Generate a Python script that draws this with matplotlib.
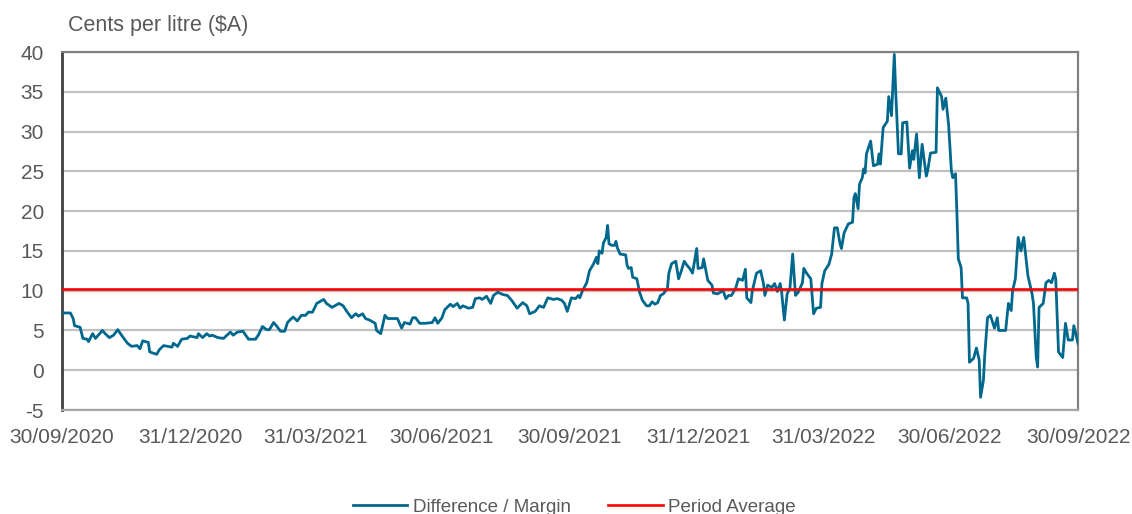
import matplotlib
matplotlib.use('Agg')
import matplotlib.pyplot as plt
import matplotlib.dates as mdates
import numpy as np
import pandas as pd

plt.rcParams['font.family'] = ['Liberation Sans', 'DejaVu Sans']
plt.rcParams['axes.unicode_minus'] = False

# days since 30/09/2020 and margin in cents per litre
days = [0, 6, 8, 9, 13, 15, 18, 19, 22, 24, 26, 29, 31, 34, 37, 40, 44, 47, 50, 54,
        56, 58, 62, 63, 68, 70, 73, 76, 79, 80, 83, 86, 90, 92, 97, 98, 101, 104, 106, 108,
        112, 116, 121, 123, 126, 130, 134, 139, 141, 144, 147, 149, 152, 154, 157, 160, 162, 166, 169, 172,
        175, 177, 180, 183, 188, 190, 194, 196, 199, 202, 205, 208, 211, 213, 216, 218, 221, 225, 226, 229,
        232, 234, 239, 241, 244, 246, 250, 252, 254, 257, 261, 266, 268, 270, 273, 275, 279, 281, 284, 286,
        288, 292, 295, 297, 300, 302, 305, 308, 310, 313, 317, 320, 323, 327, 331, 334, 336, 340, 343, 346,
        349, 353, 356, 359, 361, 363, 366, 369, 371, 372, 374, 377, 379, 382, 384, 385, 386, 388, 389, 391,
        392, 393, 395, 397, 398, 399, 401, 405, 406, 407, 409, 410, 413, 415, 417, 420, 422, 424, 426, 428,
        430, 432, 435, 436, 438, 441, 443, 445, 447, 449, 451, 453, 456, 457, 460, 461, 463, 464, 467, 468,
        471, 475, 477, 479, 481, 484, 486, 489, 491, 492, 495, 496, 499, 502, 504, 505, 507, 510, 512, 514,
        516, 517, 519, 521, 523, 525, 527, 529, 532, 533, 535, 538, 540, 542, 545, 546, 548, 551, 553, 555,
        557, 559, 560, 562, 565, 568, 569, 570, 572, 573, 575, 576, 577, 578, 581, 582, 583, 586, 587, 588,
        590, 593, 594, 596, 598, 599, 601, 603, 604, 607, 609, 611, 612, 614, 616, 618, 621, 622, 624, 628,
        629, 632, 633, 635, 637, 639, 640, 642, 643, 644, 646, 647, 650, 651, 652, 655, 657, 659, 660, 662,
        663, 665, 667, 670, 672, 673, 675, 678, 680, 682, 683, 685, 687, 689, 691, 694, 697, 698, 700, 701,
        702, 705, 707, 709, 711, 713, 714, 716, 719, 721, 723, 726, 727, 730]
margin = [7.2, 7.2, 6.5, 5.6, 5.4, 4.0, 3.9, 3.6, 4.6, 4.0, 4.4, 5.0, 4.6, 4.1, 4.4, 5.1, 4.1, 3.4, 3.0, 3.1,
          2.7, 3.7, 3.5, 2.3, 2.0, 2.6, 3.1, 3.0, 2.9, 3.4, 3.0, 3.9, 4.0, 4.3, 4.1, 4.6, 4.1, 4.6, 4.3, 4.4,
          4.1, 4.0, 4.8, 4.4, 4.8, 4.9, 3.9, 3.9, 4.4, 5.5, 5.1, 5.1, 6.0, 5.6, 4.9, 4.9, 6.0, 6.7, 6.2, 6.9,
          6.9, 7.3, 7.3, 8.4, 8.9, 8.4, 7.9, 8.1, 8.4, 8.1, 7.3, 6.6, 7.1, 6.8, 7.1, 6.5, 6.3, 5.9, 5.0, 4.6,
          6.9, 6.5, 6.5, 6.5, 5.3, 6.0, 5.8, 6.6, 6.6, 5.9, 5.9, 6.0, 6.6, 5.9, 6.6, 7.6, 8.3, 8.0, 8.4, 7.8,
          8.1, 7.8, 7.9, 9.0, 9.1, 8.9, 9.3, 8.4, 9.4, 9.8, 9.5, 9.4, 8.8, 7.8, 8.5, 8.1, 7.1, 7.4, 8.1, 7.9,
          9.1, 8.9, 9.0, 8.8, 8.4, 7.4, 9.1, 9.0, 9.4, 9.1, 10.0, 11.0, 12.5, 13.4, 14.2, 13.4, 15.0, 14.7, 16.0, 16.7,
          18.2, 15.9, 15.7, 15.7, 16.2, 15.4, 14.6, 14.5, 13.2, 12.8, 12.9, 11.7, 11.5, 9.8, 8.8, 8.1, 8.1, 8.6, 8.3, 8.5,
          9.4, 9.6, 10.3, 12.2, 13.4, 13.7, 11.5, 12.5, 13.7, 13.2, 12.8, 12.2, 15.3, 12.8, 12.9, 14.0, 12.2, 11.3, 10.7, 9.7,
          9.6, 10.0, 9.0, 9.4, 9.4, 10.3, 11.5, 11.3, 12.7, 9.1, 8.5, 10.0, 12.2, 12.5, 10.9, 9.4, 10.7, 10.4, 10.9, 9.9,
          10.9, 9.9, 6.3, 9.6, 10.3, 14.6, 9.4, 9.8, 11.0, 12.8, 12.2, 11.5, 7.1, 7.8, 7.9, 10.9, 12.5, 13.3, 14.6, 17.9,
          17.9, 15.9, 15.3, 17.3, 18.4, 18.6, 21.7, 22.2, 20.3, 23.4, 24.2, 25.3, 24.8, 27.2, 28.8, 27.3, 25.7, 25.9, 27.2, 25.9,
          30.5, 31.3, 34.4, 32.0, 39.7, 35.1, 27.2, 27.2, 31.1, 31.2, 25.4, 27.6, 26.5, 29.7, 24.2, 28.4, 24.4, 25.1, 27.3, 27.4,
          35.5, 34.4, 32.8, 34.2, 30.9, 25.1, 24.2, 24.7, 19.7, 14.0, 12.9, 9.1, 9.1, 8.4, 1.0, 1.5, 2.8, 1.3, -3.4, -1.3,
          1.9, 6.6, 6.9, 5.3, 6.6, 5.0, 5.0, 5.0, 8.4, 7.5, 10.0, 11.5, 16.7, 15.0, 16.7, 11.9, 9.6, 8.4, 1.6, 0.4,
          7.9, 8.4, 11.0, 11.3, 11.0, 12.2, 11.5, 2.3, 1.6, 5.9, 3.8, 3.8, 5.6, 3.4]
period_average = 10.2

start = pd.Timestamp('2020-09-30')
end = pd.Timestamp('2022-09-30')
dates = start + pd.to_timedelta(days, unit='D')
tick_dates = pd.to_datetime(['2020-09-30', '2020-12-31', '2021-03-31', '2021-06-30',
                             '2021-09-30', '2021-12-31', '2022-03-31', '2022-06-30', '2022-09-30'])

fig = plt.figure(figsize=(11.32, 5.14), dpi=100)
ax = fig.add_axes([0.0548, 0.2023, 0.8975, 0.6965])

ax.plot(dates, margin, color='#00688C', lw=2.0, label='Difference / Margin', zorder=3)
ax.plot([start, end], [period_average, period_average], color='#FF0000', lw=1.9,
        label='Period Average', zorder=4)

ax.set_xlim(start, end)
ax.set_ylim(-5, 40)
ax.set_yticks(np.arange(-5, 41, 5))
ax.set_xticks(tick_dates)
ax.xaxis.set_major_formatter(mdates.DateFormatter('%d/%m/%Y'))
ax.yaxis.grid(True, color='#C0C0C0', lw=1.6)
ax.set_axisbelow(True)
ax.tick_params(axis='both', length=0, labelsize=15, labelcolor='#595959')
ax.tick_params(axis='x', pad=13)
ax.tick_params(axis='y', pad=13)

ax.spines['left'].set_color('#404040')
ax.spines['left'].set_linewidth(2)
for s in ['top', 'right']:
    ax.spines[s].set_color('#808080')
    ax.spines[s].set_linewidth(1.6)
ax.spines['bottom'].set_color('#A6A6A6')
ax.spines['bottom'].set_linewidth(1.6)

fig.text(68 / 1132, 1 - 25 / 514, 'Cents per litre ($A)', fontsize=15.5, color='#595959',
         ha='left', va='center')

fig.legend(loc='center', bbox_to_anchor=(0.5075, 0.0136), ncol=2, frameon=False,
           fontsize=13.5, handlelength=2.9, handletextpad=0.3, columnspacing=2.0,
           labelcolor='#595959')

fig.savefig('out.png', dpi=100)
